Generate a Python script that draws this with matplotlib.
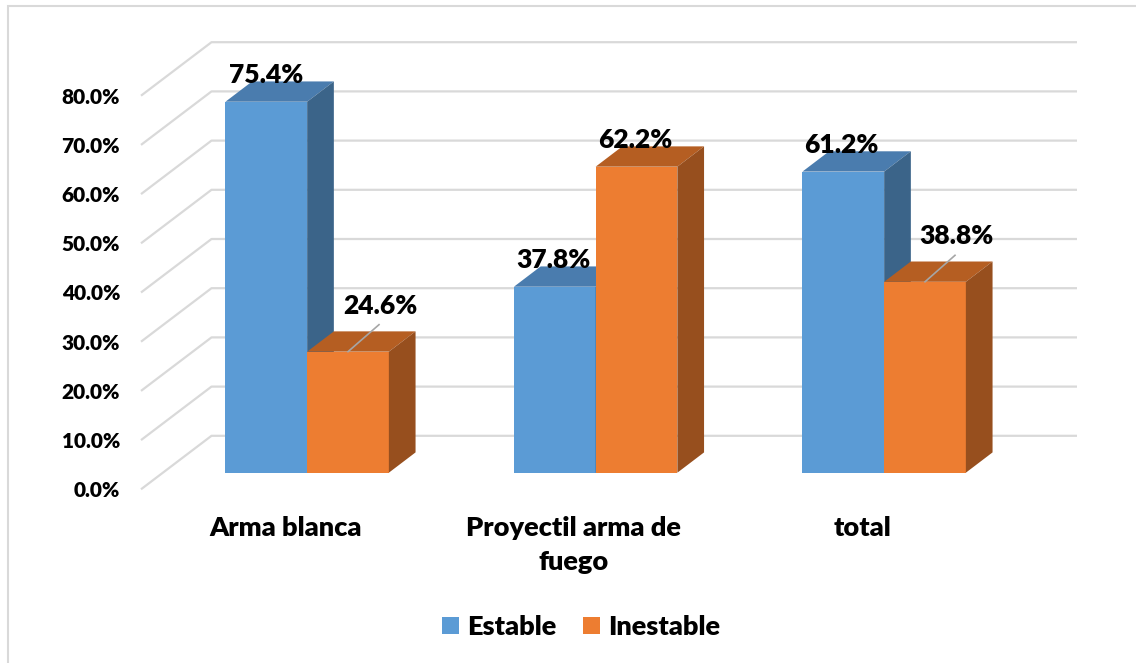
import matplotlib
matplotlib.use("Agg")
import matplotlib.pyplot as plt
from matplotlib.patches import Polygon, Rectangle, Patch
import numpy as np

# ---------------- data ----------------
categories = ["Arma blanca", "Proyectil arma de\nfuego", "total"]
series_names = ["Estable", "Inestable"]
estable = [75.4, 37.8, 61.2]
inestable = [24.6, 62.2, 38.8]
yticks = [0, 10, 20, 30, 40, 50, 60, 70, 80]

# ---------------- style ----------------
W, H = 1136, 663
DPI = 100
plt.rcParams['font.family'] = ['Lato', 'DejaVu Sans']
WEIGHT = 'heavy'

face_cols = {"Estable": ("#5B9BD5", "#4A7CAE", "#3B6489"),
             "Inestable": ("#ED7D31", "#B55E22", "#974F1E")}
grid_col = "#D9D9D9"

# depth offsets in pixels (dx, dy-up)
WALL = (70.5, 53.5)
BAR_FRONT = (21.9, 16.6)
BAR_BACK = (48.6, 36.9)

fig = plt.figure(figsize=(W / DPI, H / DPI), dpi=DPI)
ax_left, ax_right = 141, 1077 - WALL[0]
ax_bot, ax_top = 489.3, 95.7
ax = fig.add_axes([ax_left / W, 1 - ax_bot / H, (ax_right - ax_left) / W, (ax_bot - ax_top) / H])
ax.set_xlim(-0.5, 2.5)
ax.set_ylim(0, 80)
for s in ax.spines.values():
    s.set_visible(False)
ax.patch.set_alpha(0)

ppx = (ax_right - ax_left) / 3.0
ppy = (ax_bot - ax_top) / 80.0


def off(p):
    return p[0] / ppx, p[1] / ppy


wdx, wdy = off(WALL)
fdx, fdy = off(BAR_FRONT)
bdx, bdy = off(BAR_BACK)
ddx, ddy = bdx - fdx, bdy - fdy

# back wall + side wall gridlines
for v in yticks:
    xs = [-0.5, -0.5 + wdx, 2.5 + wdx]
    ys = [v, v + wdy, v + wdy]
    ax.plot(xs, ys, color=grid_col, lw=1.6, clip_on=False, zorder=1, solid_capstyle='butt')

ax.set_yticks(yticks)
ax.set_yticklabels([f"{v:.1f}%" for v in yticks], fontsize=15, fontweight=WEIGHT)
ax.tick_params(axis='y', length=0, pad=15)
ax.set_xticks(range(len(categories)))
ax.set_xticklabels(categories, fontsize=19.5, fontweight=WEIGHT, linespacing=1.5)
ax.tick_params(axis='x', length=0, pad=19)

bw = 81.7 / ppx
label_offsets = {  # (dx px, dy px) of label baseline-centre from top-front centre; leader flag
    ("Estable", 0): (0, 19, False), ("Inestable", 0): (32, 38, True),
    ("Estable", 1): (-1, 19, False), ("Inestable", 1): (-1, 19, False),
    ("Estable", 2): (-1.5, 19, False), ("Inestable", 2): (31, 37.5, True),
}


def draw_bar(x0, v, cols, z):
    front, top, side = cols
    X0, X1 = x0 + fdx, x0 + bw + fdx
    Y0, Y1 = fdy, v + fdy
    ax.add_patch(Polygon([(X0, Y0), (X1, Y0), (X1, Y1), (X0, Y1)], closed=True,
                         facecolor=front, edgecolor='none', clip_on=False, zorder=z))
    ax.add_patch(Polygon([(X0, Y1), (X1, Y1), (X1 + ddx, Y1 + ddy), (X0 + ddx, Y1 + ddy)], closed=True,
                         facecolor=top, edgecolor='none', clip_on=False, zorder=z))
    ax.add_patch(Polygon([(X1, Y0), (X1 + ddx, Y0 + ddy), (X1 + ddx, Y1 + ddy), (X1, Y1)], closed=True,
                         facecolor=side, edgecolor='none', clip_on=False, zorder=z))
    return (X0 + X1) / 2, Y1


z = 2
for i in range(len(categories)):
    for name, vals, x0 in (("Estable", estable, i - bw), ("Inestable", inestable, i)):
        cx, cy = draw_bar(x0, vals[i], face_cols[name], z)
        z += 1
        odx, ody, leader = label_offsets[(name, i)]
        lx, ly = cx + odx / ppx, cy + ody / ppy
        if leader:
            ax.plot([cx, cx + (odx - 1) / ppx], [cy, cy + (ody - 11) / ppy], color="#A6A6A6",
                    lw=1.2, clip_on=False, zorder=20)
        ax.text(lx, ly, f"{vals[i]:.1f}%", ha='center', va='baseline', fontsize=19,
                fontweight=WEIGHT, color='black', zorder=21, clip_on=False)

# legend
handles = [Patch(facecolor=face_cols[n][0], edgecolor='none') for n in series_names]
fig.legend(handles, series_names, loc='center', bbox_to_anchor=(581 / W, 1 - 627 / H), ncol=2,
           frameon=False, handlelength=0.62, handleheight=0.62,
           handletextpad=0.3, columnspacing=1.0, prop={'weight': WEIGHT, 'size': 19.5})

# chart border (left and top visible)
fig.add_artist(Rectangle((8 / W, -0.1), 1.2, 1 - 6 / H + 0.1, transform=fig.transFigure,
                         fill=False, edgecolor=grid_col, lw=1.5))

fig.savefig("out.png", dpi=DPI)
